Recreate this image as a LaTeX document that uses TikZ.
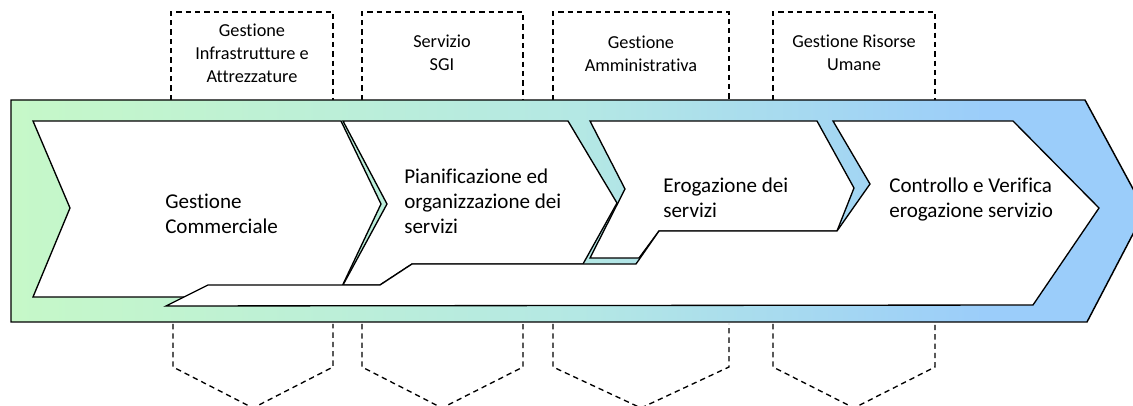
\documentclass[tikz,border=0pt]{standalone}
\usepackage{fontspec}
\setmainfont{Carlito}[Ligatures=NoCommon]
\definecolor{bgg}{RGB}{198,248,200}
\definecolor{bgt}{RGB}{180,232,228}
\definecolor{bgb}{RGB}{155,205,250}
\pgfdeclarehorizontalshading{bgshade}{100bp}{color(0bp)=(bgg); color(25bp)=(bgg); color(50bp)=(bgt); color(68bp)=(bgb); color(100bp)=(bgb)}
\tikzset{
  bigarrow/.style={draw=black, line width=1.1pt, shading=bgshade, line join=miter},
  chev/.style={draw=black, fill=white, line width=1pt, line join=miter},
  dbox/.style={draw=black, dash pattern=on 4pt off 3pt, line width=1pt},
  blbl/.style={font=\fontsize{13.7}{17.6}\selectfont, align=center, inner sep=0pt, anchor=base},
  clbl/.style={font=\fontsize{15.8}{19.1}\selectfont, align=left, inner sep=0pt, anchor=base west},
}
\begin{document}
\begin{tikzpicture}[x=0.75pt,y=-0.75pt]
\useasboundingbox (0,0) rectangle (1133,406);
% dashed boxes top
\draw[dbox] (171,100) -- (171,12) -- (333,12) -- (333,100);
\draw[dbox] (362,100) -- (362,12) -- (523,12) -- (523,100);
\draw[dbox] (553,100) -- (553,12) -- (729,12) -- (729,100);
\draw[dbox] (773,100) -- (773,12) -- (935,12) -- (935,100);
% dashed chevrons bottom
\draw[dbox] (173,324) -- (173,367) -- (253,408) -- (333,367) -- (333,324);
\draw[dbox] (362,324) -- (362,367) -- (442,408) -- (523,367) -- (523,324);
\draw[dbox] (553,324) -- (553,367) -- (641,408) -- (729,367) -- (729,324);
\draw[dbox] (773,324) -- (773,367) -- (854,408) -- (935,367) -- (935,324);
% big background arrow
\path[bigarrow] (11,100) -- (1085,100) -- (1145,211) -- (1087,322) -- (11,322) -- cycle;
% chevrons
\path[chev] (33,121) -- (341,121) -- (381,204) -- (337,297) -- (33,297) -- (70,208) -- cycle;
\path[chev] (343,121) -- (568,121) -- (617,203) -- (583,264) -- (412,264) -- (380,285) -- (343,285) -- (387,204) -- cycle;
\path[chev] (590,121) -- (817,121) -- (854,188) -- (837,231) -- (659,231) -- (639,258) -- (590,258) -- (625,189) -- cycle;
\path[chev] (833,121) -- (1013,121) -- (1099,208) -- (1033,305) -- (166,306) -- (208,285) -- (380,285) -- (412,264) -- (636,264) -- (659,231) -- (837,231) -- (870,184) -- cycle;
% chevron labels (anchor = baseline of last line)
\node[clbl] (t1) at (165,234) {Gestione\\Commerciale};
\node[clbl] (t2) at (404,234) {Pianificazione ed\\organizzazione dei\\servizi};
\node[clbl] (t3) at (663,218) {Erogazione dei\\servizi};
\node[clbl] (t4) at (889,218) {Controllo e Verifica\\erogazione servizio};
% box labels (anchor = baseline of last line)
\node[blbl] (l1) at (252,83) {Gestione\\Infrastrutture e\\Attrezzature};
\node[blbl] (l2) at (442,71) {Servizio\\SGI};
\node[blbl] (l3) at (641,72) {Gestione\\Amministrativa};
\node[blbl] (l4) at (854,71) {Gestione Risorse\\Umane};
\end{tikzpicture}
\end{document}
